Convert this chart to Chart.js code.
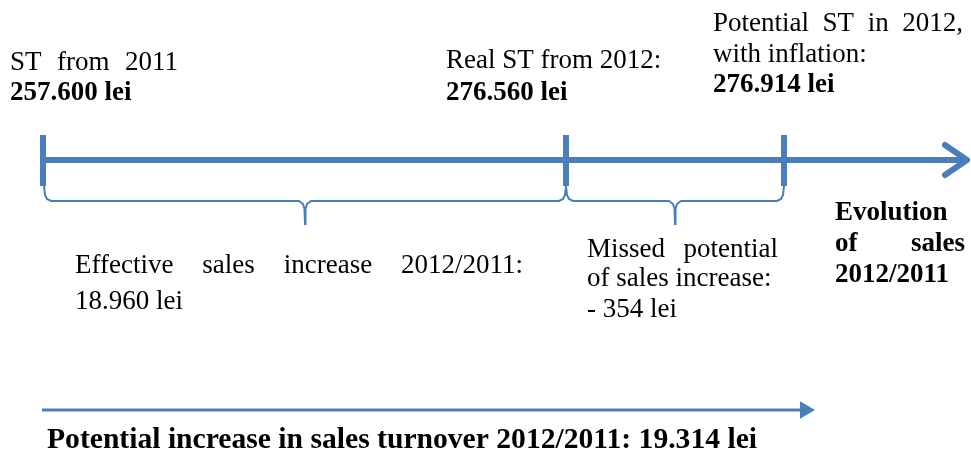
<!DOCTYPE html>
<html>
<head>
<meta charset="utf-8">
<script src="https://cdn.jsdelivr.net/npm/chart.js@4"></script>
<style>
  body { margin: 0; background: #fff; }
  #wrap { width: 971px; height: 458px; }
</style>
</head>
<body>
<div id="wrap"><canvas id="evoChart" width="971" height="458"></canvas></div>
<script>
// values
const stLabels = ['ST from 2011', 'Real ST from 2012:', 'Potential ST in 2012, with inflation:'];
const stValues = [257600, 276560, 276914];
const effectiveIncrease = 18960;
const missedIncrease = -354;
const potentialIncrease = 19314;

// schematic placement of the three markers on the timeline (not to scale)
const markX = [43, 566, 784];

const BLUE = '#4a7ebb';
const SERIF = '"Liberation Serif", "Times New Roman", serif';

function lei(n) {
    const s = Math.abs(n).toString().replace(/\B(?=(\d{3})+(?!\d))/g, '.');
    return (n < 0 ? '- ' : '') + s + ' lei';
}

function brace(a, b, top, y, tip) {
    const m = (a + b) / 2;
    return [
        { x: a, y: top }, { x: a + 1, y: y - 6 }, { x: a + 3, y: y - 2 }, { x: a + 7, y: y },
        { x: m - 6, y: y }, { x: m - 2, y: y + 3 }, { x: m - 0.5, y: y + 8 }, { x: m, y: tip },
        { x: m + 0.5, y: y + 8 }, { x: m + 2, y: y + 3 }, { x: m + 6, y: y },
        { x: b - 7, y: y }, { x: b - 3, y: y - 2 }, { x: b - 1, y: y - 6 }, { x: b, y: top }
    ];
}

function seg(data, width, extra) {
    return Object.assign({
        data: data, showLine: true, borderColor: BLUE, backgroundColor: BLUE,
        borderWidth: width, pointRadius: 0, tension: 0, fill: false,
        borderCapStyle: 'butt', borderJoinStyle: 'miter'
    }, extra || {});
}

const lineY = 160;
const datasets = [
    seg([{ x: markX[0], y: lineY }, { x: 966, y: lineY }], 6),
    seg([{ x: 945, y: 145 }, { x: 967, y: lineY }, { x: 945, y: 175 }], 6, { borderCapStyle: 'round', borderJoinStyle: 'round' })
];
markX.forEach(x => datasets.push(seg([{ x: x, y: 135 }, { x: x, y: 186 }], 6)));
datasets.push(seg(brace(markX[0] + 1, markX[1], 186, 201, 224), 2));
datasets.push(seg(brace(markX[1], markX[2], 186, 201, 224), 2));
// bottom arrow: potential increase
datasets.push(seg([{ x: 42, y: 410 }, { x: 802, y: 410 }], 3));
datasets.push({
    data: [{ x: 805, y: 410 }], showLine: false, pointStyle: 'triangle', rotation: 90,
    pointRadius: 10, borderWidth: 0, backgroundColor: BLUE, borderColor: BLUE
});

function justified(ctx, text, x, w, y) {
    const words = text.split(' ');
    let total = 0;
    words.forEach(t => total += ctx.measureText(t).width);
    const gap = words.length > 1 ? (w - total) / (words.length - 1) : 0;
    let cx = x;
    words.forEach(t => { ctx.fillText(t, cx, y); cx += ctx.measureText(t).width + gap; });
}

function fitted(ctx, text, x, w, y) {
    const tw = ctx.measureText(text).width;
    ctx.save();
    ctx.translate(x, y);
    ctx.scale(w / tw, 1);
    ctx.fillText(text, 0, 0);
    ctx.restore();
}

const textPlugin = {
    id: 'diagramText',
    afterDraw(chart) {
        const ctx = chart.ctx;
        const xs = chart.scales.x, ys = chart.scales.y;
        const px = v => xs.getPixelForValue(v), py = v => ys.getPixelForValue(v);
        ctx.save();
        ctx.fillStyle = '#000';
        ctx.textBaseline = 'alphabetic';
        ctx.textAlign = 'left';
        const reg = '27px ' + SERIF, bold = 'bold 27px ' + SERIF;

        ctx.font = reg;
        justified(ctx, 'ST from 2011', px(10), 168, py(70));
        ctx.font = bold;
        ctx.fillText(lei(stValues[0]), px(10), py(100));

        ctx.font = reg;
        ctx.fillText(stLabels[1], px(446), py(68));
        ctx.font = bold;
        ctx.fillText(lei(stValues[1]), px(446), py(100));

        ctx.font = reg;
        justified(ctx, 'Potential ST in 2012,', px(713), 250, py(31));
        ctx.fillText('with inflation:', px(713), py(62));
        ctx.font = bold;
        ctx.fillText(lei(stValues[2]), px(713), py(92));

        ctx.font = bold;
        ctx.fillText('Evolution', px(835), py(220));
        justified(ctx, 'of sales', px(835), 130, py(251));
        ctx.fillText('2012/2011', px(835), py(282));

        ctx.font = reg;
        justified(ctx, 'Effective sales increase 2012/2011:', px(75), 448, py(273));
        ctx.fillText(lei(effectiveIncrease), px(75), py(309));

        justified(ctx, 'Missed potential', px(587), 191, py(257));
        ctx.fillText('of sales increase:', px(587), py(286));
        ctx.fillText(lei(missedIncrease), px(587), py(317));

        ctx.font = 'bold 30px ' + SERIF;
        fitted(ctx, 'Potential increase in sales turnover 2012/2011: ' + lei(potentialIncrease), px(47), 710, py(448));
        ctx.restore();
    }
};

new Chart(document.getElementById('evoChart'), {
    type: 'scatter',
    data: { datasets: datasets },
    options: {
        responsive: false,
        animation: false,
        layout: { padding: 0, autoPadding: false },
        plugins: { legend: { display: false }, tooltip: { enabled: false } },
        scales: {
            x: { type: 'linear', min: 0, max: 971, display: false },
            y: { type: 'linear', min: 0, max: 458, reverse: true, display: false }
        }
    },
    plugins: [textPlugin]
});
</script>
</body>
</html>
